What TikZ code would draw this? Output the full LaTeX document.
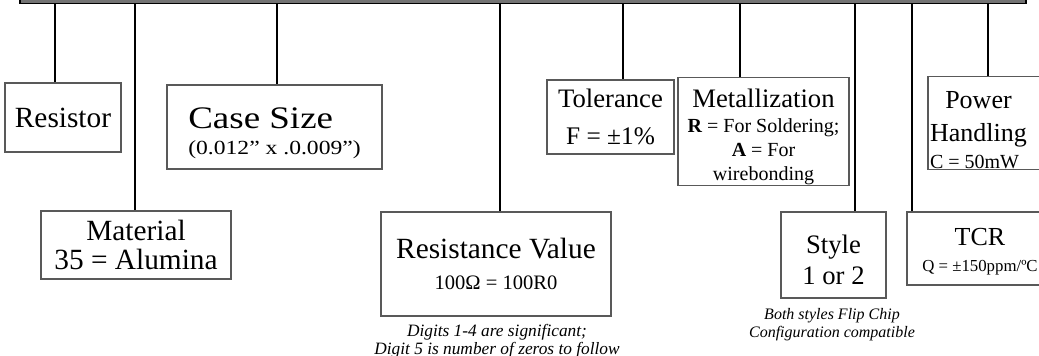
\documentclass[tikz,border=0pt]{standalone}
\usepackage{fontspec}
\setmainfont{Liberation Serif}
\newfontfamily\widefont[FakeStretch=1.18]{Liberation Serif}
\usepackage{tikz}

\begin{document}
\begin{tikzpicture}[
    x=0.75pt, y=-0.75pt,
    % part-number boxes (thin gray frame)
    box/.style={draw=black!65, line width=0.9pt, inner sep=0pt, align=center},
    % heavy drop lines from the bar
    stem/.style={line width=2.2pt, black},
    bar/.style={draw=black, line width=1.2pt, fill=black!55},
    note/.style={align=center, inner sep=0pt},
]
    \useasboundingbox (0,0) rectangle (1039,356);
    \clip (0,0) rectangle (1039,356);

    % top bar
    \draw[bar] (20,-8) rectangle (1026,3.5);

    % upper row of boxes
    \node[box, minimum width=87pt, minimum height=51.75pt,
          font=\fontsize{22}{24}\selectfont] (resistor) at (63,117.5) {Resistor};
    \node[box, minimum width=161.25pt, minimum height=63pt, align=left,
          font=\widefont\fontsize{23.5}{19.7}\selectfont] (casesize) at (274.5,127) {
        \rule{0pt}{25pt}Case Size\\
        {\fontsize{15}{18}\selectfont (0.012” x .0.009”)}
    };
    \node[box, minimum width=95.25pt, minimum height=55.5pt,
          font=\fontsize{20}{27.5}\selectfont] (tolerance) at (610.5,117) {
        Tolerance\\
        {\fontsize{19}{22}\selectfont F = ±1\%}
    };
    \node[box, minimum width=128.25pt, minimum height=77.25pt,
          font=\fontsize{15}{18.2}\selectfont] (metal) at (763.5,131.5) {
        {\fontsize{20}{22}\selectfont\rule{0pt}{22pt}Metallization}\\[0.8pt]
        \textbf{R} = For Soldering;\\
        \textbf{A} = For\\
        wirebonding
    };
    \node[box, minimum width=93pt, minimum height=64.5pt, text width=90pt, align=left,
          font=\fontsize{19.5}{24.75}\selectfont] (power) at (990,123) {
        \makebox[72.75pt]{\rule{0pt}{24pt}Power}\\
        \makebox[72.75pt]{Handling}\\[-4.5pt]
        \mbox{\fontsize{15}{18}\selectfont\spaceskip=0pt C = 50mW}
    };

    % lower row of boxes
    \node[box, minimum width=142.5pt, minimum height=51pt,
          font=\fontsize{22}{22}\selectfont] (material) at (136,245) {
        Material\\
        35 = Alumina
    };
    \node[box, minimum width=172.5pt, minimum height=78pt,
          font=\fontsize{22}{23}\selectfont] (resvalue) at (496,264) {
        Resistance Value\\
        {\fontsize{15.4}{18}\selectfont 100Ω = 100R0}
    };
    \node[box, minimum width=78.75pt, minimum height=64.5pt,
          font=\fontsize{20}{23.25}\selectfont] (style) at (833.5,255) {
        \rule{0pt}{21.5pt}Style\\
        1 or 2
    };
    \node[box, minimum width=109.5pt, minimum height=54.75pt,
          font=\fontsize{19.5}{19.5}\selectfont] (tcr) at (980,248.5) {
        \rule{0pt}{18pt}TCR\\
        {\fontsize{12.6}{15}\selectfont Q = ±150ppm/ºC}
    };

    % notes under boxes
    \node[note, font=\itshape\fontsize{13}{13.5}\selectfont] (digits) at (497,341) {
        Digits 1-4 are significant;\\
        Digit 5 is number of zeros to follow
    };
    \node[note, font=\itshape\fontsize{12}{13.5}\selectfont] (flipchip) at (832,324.5) {
        Both styles Flip Chip\\
        Configuration compatible
    };

    % drop lines from the bar to each box
    \foreach \x/\b in {55/resistor, 135/material, 277/casesize, 500/resvalue,
                       623/tolerance, 740/metal, 855/style, 912/tcr, 988/power} {
        \coordinate (t-\b) at (\x,3.5);
        \draw[stem] (t-\b) -- (t-\b |- \b.north);
    }
\end{tikzpicture}
\end{document}
